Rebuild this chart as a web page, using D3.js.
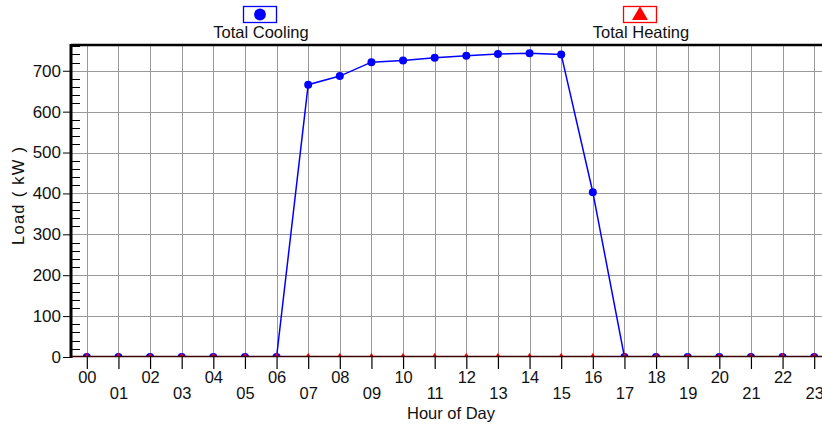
<!DOCTYPE html>
<html>
<head>
<meta charset="utf-8">
<script src="https://cdn.jsdelivr.net/npm/d3@7"></script>
<style>
  html, body { margin: 0; padding: 0; background: #fff; }
  svg { display: block; font-family: "Liberation Sans", Arial, sans-serif; }
  svg text { font-family: "Liberation Sans", Arial, sans-serif; }
</style>
</head>
<body>
<svg id="chart" width="822" height="427"></svg>
<script>
// Hourly building loads (kW)
const hours = ["00","01","02","03","04","05","06","07","08","09","10","11",
               "12","13","14","15","16","17","18","19","20","21","22","23"];
const coolingLoad = [0,0,0,0,0,0,0,666,687,721,725,732,737,741,743,740,403,0,0,0,0,0,0,0];
const heatingLoad = [0,0,0,0,0,0,0,0,0,0,0,0,0,0,0,0,0,0,0,0,0,0,0,0];
const yTicks = [0,100,200,300,400,500,600,700];
const seriesNames = ["Total Cooling", "Total Heating"];

const svg = d3.select("#chart");
const margin = { left: 71, top: 45, right: 830, bottom: 357 };

const x = d3.scaleLinear().domain([-0.5, 23.5]).range([margin.left, margin.right]);
const y = d3.scaleLinear().domain([0, 763]).range([margin.bottom, margin.top]);

svg.append("defs").append("clipPath").attr("id", "plotClip")
  .append("rect")
  .attr("x", margin.left).attr("y", margin.top)
  .attr("width", margin.right - margin.left)
  .attr("height", margin.bottom - margin.top);

// grid
const grid = svg.append("g").attr("stroke", "#9a9a9a").attr("stroke-width", 1);
grid.selectAll("line.h").data(yTicks.filter(d => d > 0)).join("line")
  .attr("x1", margin.left).attr("x2", margin.right)
  .attr("y1", d => Math.round(y(d)) + 0.5).attr("y2", d => Math.round(y(d)) + 0.5);
grid.selectAll("line.v").data(hours.map((h, i) => i)).join("line")
  .attr("y1", margin.top).attr("y2", margin.bottom)
  .attr("x1", d => Math.round(x(d)) + 0.5).attr("x2", d => Math.round(x(d)) + 0.5);

// minor y ticks inside the frame
const minor = d3.range(0, 761, 20).filter(v => v % 100 !== 0);
svg.append("g").attr("stroke", "#000").attr("stroke-width", 1)
  .selectAll("line").data(minor).join("line")
  .attr("x1", margin.left).attr("x2", margin.left + 9)
  .attr("y1", d => Math.round(y(d)) + 0.5).attr("y2", d => Math.round(y(d)) + 0.5);

// y axis
const yAxis = d3.axisLeft(y).tickValues(yTicks).tickSize(8).tickPadding(2).tickFormat(d3.format("d"));
const gy = svg.append("g").attr("transform", `translate(${margin.left},0)`).call(yAxis);
gy.select(".domain").remove();
gy.selectAll(".tick line").attr("stroke", "#000");
gy.selectAll(".tick text").attr("font-size", 17).attr("fill", "#111")
  .attr("font-family", "Liberation Sans, Arial, sans-serif");

// x axis with staggered labels
const xAxis = d3.axisBottom(x).tickValues(d3.range(24)).tickSize(12).tickFormat(i => hours[i]);
const gx = svg.append("g").attr("transform", `translate(0,${margin.bottom})`).call(xAxis);
gx.select(".domain").remove();
gx.selectAll(".tick line").attr("stroke", "#000").attr("stroke-width", 1.2);
gx.selectAll(".tick text").attr("font-size", 16.5).attr("fill", "#111")
  .attr("font-family", "Liberation Sans, Arial, sans-serif")
  .attr("y", (d, i) => i % 2 === 0 ? 14.5 : 30);

// frame
svg.append("line").attr("x1", margin.left).attr("x2", margin.right)
  .attr("y1", margin.top).attr("y2", margin.top).attr("stroke", "#000").attr("stroke-width", 2.5);
svg.append("line").attr("x1", margin.left).attr("x2", margin.left)
  .attr("y1", margin.top - 1).attr("y2", margin.bottom + 1).attr("stroke", "#000").attr("stroke-width", 3);

const plot = svg.append("g").attr("clip-path", "url(#plotClip)");

// cooling series
const line = d3.line().x((d, i) => x(i)).y(d => y(d));
plot.append("path").datum(coolingLoad).attr("d", line)
  .attr("fill", "none").attr("stroke", "#0000ff").attr("stroke-width", 1.5);
plot.selectAll("circle.cool").data(coolingLoad).join("circle")
  .attr("class", "cool")
  .attr("cx", (d, i) => x(i)).attr("cy", d => y(d)).attr("r", 4)
  .attr("fill", "#0000ff");

// heating series
plot.append("path").datum(heatingLoad).attr("d", line)
  .attr("fill", "none").attr("stroke", "#c00000").attr("stroke-width", 1.5);
const tri = d3.symbol().type(d3.symbolTriangle).size(14);
plot.selectAll("path.heat").data(heatingLoad).join("path")
  .attr("class", "heat")
  .attr("d", tri)
  .attr("transform", (d, i) => `translate(${x(i)},${y(d) - 1})`)
  .attr("fill", "#ff0000");

// bottom axis line
svg.append("line").attr("x1", margin.left).attr("x2", margin.right)
  .attr("y1", margin.bottom - 0.5).attr("y2", margin.bottom - 0.5)
  .attr("stroke", "#3a0000").attr("stroke-width", 1.5);

// axis titles
svg.append("text").attr("x", 451).attr("y", 419).attr("text-anchor", "middle")
  .attr("font-size", 16.5).attr("fill", "#111").text("Hour of Day");
svg.append("text").attr("transform", "translate(24,196) rotate(-90)")
  .attr("text-anchor", "middle").attr("font-size", 16.5).attr("fill", "#111")
  .attr("textLength", 98).attr("lengthAdjust", "spacing").text("Load ( kW )");

// legend
const legend = [
  { name: seriesNames[0], cx: 260, color: "#0000ff", sym: d3.symbolCircle, size: 110 },
  { name: seriesNames[1], cx: 640, color: "#ff0000", sym: d3.symbolTriangle, size: 110 }
];
const lg = svg.selectAll("g.legend").data(legend).join("g").attr("class", "legend");
lg.append("rect")
  .attr("x", d => d.cx - 16.5).attr("y", 6.5).attr("width", 33).attr("height", 16)
  .attr("fill", "#fff").attr("stroke", d => d.color).attr("stroke-width", 1.3);
lg.append("path")
  .attr("d", d => d3.symbol().type(d.sym).size(d.size)())
  .attr("transform", d => `translate(${d.cx},${d.sym === d3.symbolTriangle ? 15.5 : 14.5})`)
  .attr("fill", d => d.color);
lg.append("text")
  .attr("x", d => d.cx + 1).attr("y", 38).attr("text-anchor", "middle")
  .attr("font-size", 16.5).attr("fill", "#111").text(d => d.name);
</script>
</body>
</html>
